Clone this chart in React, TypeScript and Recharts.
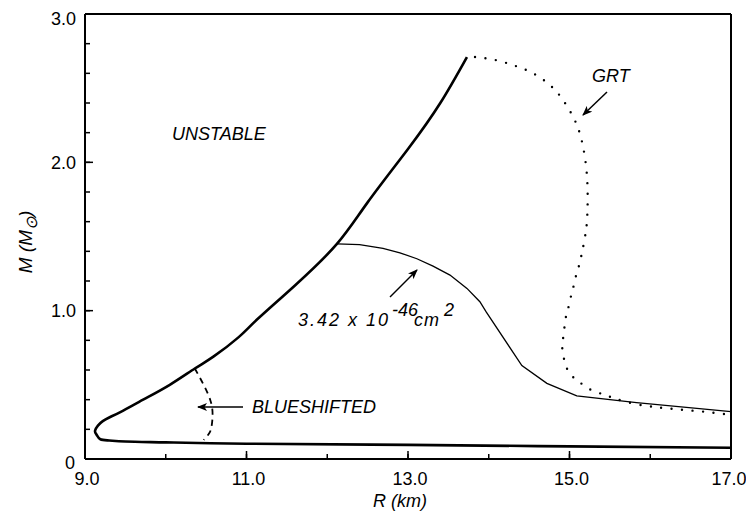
import React from "react";
import { ComposedChart, Line, XAxis, YAxis, ReferenceLine } from "recharts";

// ---- data ----
const xTicks = [9, 10, 11, 12, 13, 14, 15, 16, 17];
const xTickLabels = ["9.0", "", "11.0", "", "13.0", "", "15.0", "", "17.0"];
const yTicks = [0, 0.2, 0.4, 0.6, 0.8, 1.0, 1.2, 1.4, 1.6, 1.8, 2.0, 2.2, 2.4, 2.6, 2.8, 3.0];
const yTickLabels = ["0", "", "", "", "", "1.0", "", "", "", "", "2.0", "", "", "", "", "3.0"];

// stability boundary (thick solid)
const boundaryR = [17.0, 15.0, 13.0, 11.0, 10.0, 9.5, 9.3, 9.19, 9.145, 9.124, 9.16, 9.22, 9.3, 9.45, 9.72, 10.05, 10.36, 10.59, 10.9, 11.13, 11.6, 12.12, 12.5, 13.0, 13.4, 13.73];
const boundaryM = [0.076, 0.085, 0.095, 0.103, 0.112, 0.118, 0.125, 0.133, 0.162, 0.189, 0.225, 0.255, 0.28, 0.32, 0.40, 0.50, 0.61, 0.69, 0.82, 0.94, 1.17, 1.45, 1.73, 2.09, 2.40, 2.71];

// 3.42 x 10^-46 cm^2 curve (thin solid)
const crossR = [12.12, 12.4, 12.69, 12.9, 13.11, 13.31, 13.52, 13.73, 13.89, 13.97, 14.41, 14.72, 15.09, 15.83, 17.0];
const crossM = [1.45, 1.445, 1.42, 1.39, 1.35, 1.30, 1.24, 1.15, 1.06, 0.99, 0.63, 0.51, 0.425, 0.38, 0.32];

// GRT (dotted)
const grtR = [13.83, 14.08, 14.33, 14.55, 14.76, 14.92, 15.06, 15.15, 15.21, 15.225, 15.217, 15.204, 15.183, 15.158, 15.134, 15.101, 15.068, 15.04, 15.01, 14.981, 14.953, 14.92, 14.91, 14.93, 14.96, 15.03, 15.12, 15.22, 15.34, 15.45, 15.58, 15.82, 16.07, 16.33, 16.70, 16.95];
const grtM = [2.71, 2.69, 2.65, 2.60, 2.52, 2.42, 2.29, 2.15, 1.95, 1.75, 1.61, 1.54, 1.47, 1.40, 1.34, 1.27, 1.21, 1.14, 1.08, 1.01, 0.95, 0.81, 0.75, 0.68, 0.62, 0.56, 0.52, 0.48, 0.45, 0.43, 0.405, 0.37, 0.35, 0.335, 0.317, 0.30];

// blueshifted boundary (dashed)
const blueR = [10.36, 10.46, 10.55, 10.58, 10.56, 10.52, 10.47];
const blueM = [0.61, 0.51, 0.40, 0.30, 0.20, 0.16, 0.128];

const zip = (rs: number[], ms: number[]) => rs.map((r, i) => ({ r, m: ms[i] }));
const boundaryData = zip(boundaryR, boundaryM);
const crossData = zip(crossR, crossM);
const grtData = zip(grtR, grtM);
const blueData = zip(blueR, blueM);

// ---- layout ----
const W = 738;
const H = 508;
const MINOR = 5;
const MAJOR = 8;
const X_TEXT = 19;
const Y_TEXT = 9;
const CAP_HALF = 6.5;
const TICK_FONT = "'Liberation Sans', Arial, sans-serif";
const LABEL_FONT = "'Liberation Sans', Arial, sans-serif";

const XTick = (props: any) => {
  const { x, y, index } = props;
  const label = xTickLabels[index] || "";
  if (!label) return <g />;
  const axisY = y - X_TEXT;
  return (
    <g>
      <line x1={x} y1={axisY} x2={x} y2={axisY - MAJOR} stroke="#000" strokeWidth={1.5} />
      <text x={index === xTicks.length - 1 ? x - 2 : x + 2} y={y + CAP_HALF} textAnchor="middle" fontSize={18} fontFamily={TICK_FONT} fill="#000">
        {label}
      </text>
    </g>
  );
};

const YTick = (props: any) => {
  const { x, y, index } = props;
  const label = yTickLabels[index] || "";
  if (!label) return <g />;
  const axisX = x + Y_TEXT;
  const isTop = index === yTicks.length - 1;
  const baseline = index === 0 ? y + 3 + CAP_HALF : isTop ? Math.max(y + CAP_HALF, 16.5) : y + CAP_HALF;
  return (
    <g>
      <line x1={axisX} y1={y} x2={axisX + MAJOR} y2={y} stroke="#000" strokeWidth={1.5} />
      <text x={index === 0 ? x - 1 : x} y={baseline} textAnchor="end" fontSize={18} fontFamily={TICK_FONT} fill="#000">
        {label}
      </text>
    </g>
  );
};

const axisLine = { stroke: "#000", strokeWidth: 2 };
const tickLine = { stroke: "#000", strokeWidth: 1.5 };

export default function App() {
  return (
    <div style={{ position: "relative", width: W, height: H }}>
      <ComposedChart width={W} height={H} margin={{ top: 5, right: 5, bottom: 17, left: 0 }}>
        <XAxis
          type="number"
          dataKey="r"
          domain={[9, 17]}
          ticks={xTicks}
          interval={0}
          tickSize={-MINOR}
          tickMargin={X_TEXT + MINOR}
          tick={<XTick />}
          axisLine={axisLine}
          tickLine={tickLine}
          height={40}
          allowDataOverflow
        />
        <XAxis
          xAxisId="top"
          orientation="top"
          type="number"
          dataKey="r"
          domain={[9, 17]}
          ticks={xTicks}
          interval={0}
          tickSize={-MINOR}
          tick={false}
          axisLine={axisLine}
          tickLine={tickLine}
          height={1}
          allowDataOverflow
        />
        <YAxis
          type="number"
          dataKey="m"
          domain={[0, 3]}
          ticks={yTicks}
          interval={0}
          tickSize={-MINOR}
          tickMargin={Y_TEXT + MINOR}
          tick={<YTick />}
          axisLine={axisLine}
          tickLine={tickLine}
          width={77}
          allowDataOverflow
        />
        <YAxis
          yAxisId="right"
          orientation="right"
          type="number"
          dataKey="m"
          domain={[0, 3]}
          ticks={yTicks}
          interval={0}
          tickSize={-MINOR}
          tick={false}
          axisLine={axisLine}
          tickLine={tickLine}
          width={10}
          allowDataOverflow
        />
        <ReferenceLine x={17} stroke="#000" strokeWidth={2} ifOverflow="visible" />
        <Line xAxisId="top" yAxisId="right" data={boundaryData} dataKey="m" stroke="none" dot={false} activeDot={false} isAnimationActive={false} legendType="none" />
        <Line data={boundaryData} dataKey="m" type="natural" stroke="#000" strokeWidth={2.6} dot={false} activeDot={false} isAnimationActive={false} />
        <Line data={crossData} dataKey="m" type="linear" stroke="#000" strokeWidth={1.3} dot={false} activeDot={false} isAnimationActive={false} />
        <Line data={grtData} dataKey="m" type="natural" stroke="#000" strokeWidth={2.4} strokeDasharray="0 10.5" strokeLinecap="round" dot={false} activeDot={false} isAnimationActive={false} />
        <Line data={blueData} dataKey="m" type="natural" stroke="#000" strokeWidth={1.8} strokeDasharray="6 5" dot={false} activeDot={false} isAnimationActive={false} />
      </ComposedChart>
      <svg width={W} height={H} style={{ position: "absolute", left: 0, top: 0, pointerEvents: "none" }}>
        <defs>
          <marker id="ah" markerWidth="10" markerHeight="8" refX="9" refY="4" orient="auto" markerUnits="userSpaceOnUse">
            <path d="M0,0 L10,4 L0,8 L2.5,4 Z" fill="#000" />
          </marker>
        </defs>
        <g fontFamily={LABEL_FONT} fontStyle="italic" fontSize={18} fill="#000">
          <text x={164} y={132}>UNSTABLE</text>
          <text x={584} y={74}>GRT</text>
          <text x={244} y={405}>BLUESHIFTED</text>
          <text x={290} y={318}>
            <tspan x={290} letterSpacing={2}>3.42 x 10</tspan>
            <tspan x={384} dy={-10}>-46</tspan>
            <tspan x={406} dy={10} letterSpacing={1}>cm</tspan>
            <tspan x={436} dy={-10}>2</tspan>
          </text>
          <text x={392} y={499} textAnchor="middle">R (km)</text>
          <text x={24} y={234} fontSize={19} textAnchor="middle" transform="rotate(-90 24 234)">
            M (M<tspan dy={5} fontSize={16}>⊙</tspan><tspan dy={-5}>)</tspan>
          </text>
        </g>
        <g stroke="#000" strokeWidth={1.5} fill="none">
          <line x1={599} y1={84} x2={575} y2={107} markerEnd="url(#ah)" />
          <line x1={235} y1={399} x2={190} y2={399} markerEnd="url(#ah)" />
          <line x1={382} y1={289} x2={409} y2={262} markerEnd="url(#ah)" />
        </g>
      </svg>
    </div>
  );
}
